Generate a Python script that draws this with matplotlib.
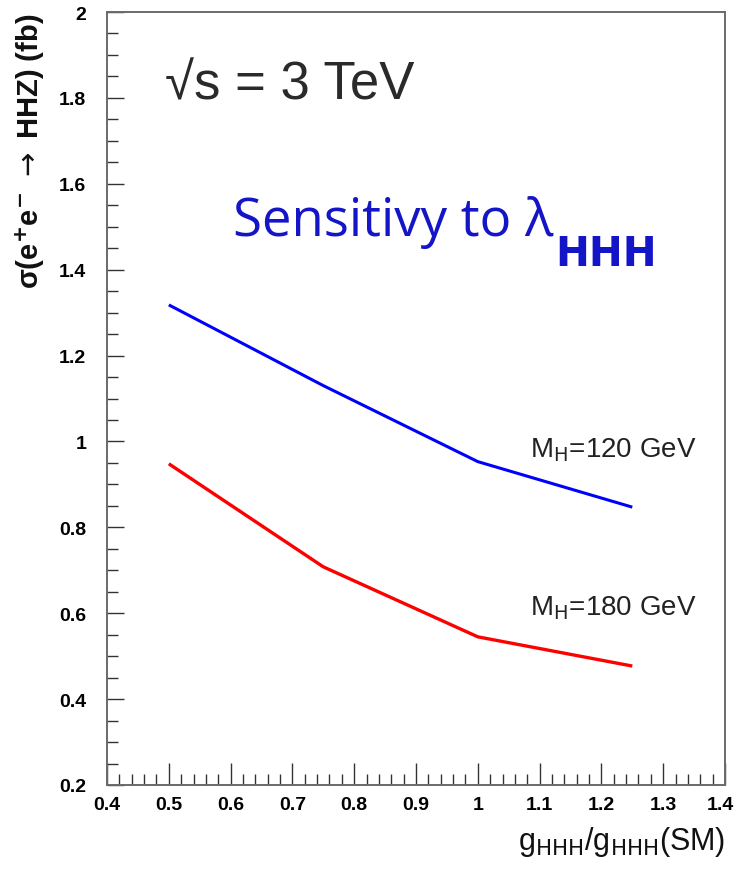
import matplotlib
matplotlib.use("Agg")
import matplotlib.pyplot as plt
import matplotlib.transforms as mtrans
from matplotlib.ticker import MultipleLocator, FuncFormatter

# Data
g_ratio = [0.5, 0.75, 1.0, 1.25]
sigma_mh120 = [1.318, 1.130, 0.953, 0.847]
sigma_mh180 = [0.948, 0.708, 0.545, 0.477]

xticks = [0.4, 0.5, 0.6, 0.7, 0.8, 0.9, 1.0, 1.1, 1.2, 1.3, 1.4]
yticks = [0.2, 0.4, 0.6, 0.8, 1.0, 1.2, 1.4, 1.6, 1.8, 2.0]

plt.rcParams['font.family'] = ['Liberation Sans', 'DejaVu Sans']

W, H = 737, 870
fig = plt.figure(figsize=(W / 100, H / 100), dpi=100)
ax = fig.add_axes([107 / W, 1 - 786 / H, (725 - 107) / W, (786 - 13) / H])

ax.plot(g_ratio, sigma_mh120, color='#0000ff', lw=2.2, solid_capstyle='butt')
ax.plot(g_ratio, sigma_mh180, color='#ff0000', lw=2.4, solid_capstyle='butt')

ax.set_xlim(0.4, 1.4)
ax.set_ylim(0.2, 2.0)
ax.set_xticks(xticks)
ax.set_yticks(yticks)
ax.xaxis.set_minor_locator(MultipleLocator(0.02))
ax.yaxis.set_minor_locator(MultipleLocator(0.05))
fmt = FuncFormatter(lambda v, p: ('%g' % round(v, 2)))
ax.xaxis.set_major_formatter(fmt)
ax.yaxis.set_major_formatter(fmt)

ax.tick_params(which='both', direction='in', top=False, right=False,
               color='#333333', width=1.0)
ax.tick_params(which='major', axis='x', length=16, pad=8)
ax.tick_params(which='minor', axis='x', length=8)
ax.tick_params(which='major', axis='y', length=12, pad=15)
ax.tick_params(which='minor', axis='y', length=8)
for lab in ax.get_xticklabels() + ax.get_yticklabels():
    lab.set_fontweight('bold')
    lab.set_fontsize(14)
last = ax.get_xticklabels()[-1]
last.set_horizontalalignment('right')
last.set_transform(last.get_transform() +
                   mtrans.ScaledTranslation(9 / 100, 0, fig.dpi_scale_trans))

for s in ax.spines.values():
    s.set_color('#6a6a6a')
    s.set_linewidth(1.4)

# Labels inside the plot
ax.text(1.084, 0.966, r'M$_{\mathrm{H}}$=120 GeV', fontsize=20, color='#222222',
        ha='left', va='baseline')
ax.text(1.084, 0.598, r'M$_{\mathrm{H}}$=180 GeV', fontsize=20, color='#222222',
        ha='left', va='baseline')

fig.text(165 / W, 1 - 100 / H, '√s = 3 TeV', fontsize=38, color='#2a2a2a',
         ha='left', va='baseline')
sens = fig.text(233 / W, 1 - 236 / H, 'Sensitivy to λ',
                fontsize=38, color='#1515c8', ha='left', va='baseline',
                family=['Open Sans', 'DejaVu Sans'])
fig.canvas.draw()
bb = sens.get_window_extent(renderer=fig.canvas.get_renderer())
fig.text(bb.x1 / W + 2 / W, 1 - 266 / H, 'HHH', fontsize=29, fontweight='bold',
         color='#1515c8', ha='left', va='baseline',
         family=['DejaVu Sans'])

# Axis titles
fig.text(725 / W, 1 - 850 / H, r'g$_{\mathrm{HHH}}$/g$_{\mathrm{HHH}}$(SM)',
         fontsize=22, color='#111111', ha='right', va='baseline')
fig.text(30 / W, 1 - 14 / H, r'σ(e$^{\mathbf{+}}$e$^{\mathbf{-}}$ $\rightarrow$ HHZ) (fb)',
         fontsize=21, fontweight='bold', rotation=90, color='#111111',
         ha='center', va='top')

fig.savefig('out.png', dpi=100, facecolor='white')
